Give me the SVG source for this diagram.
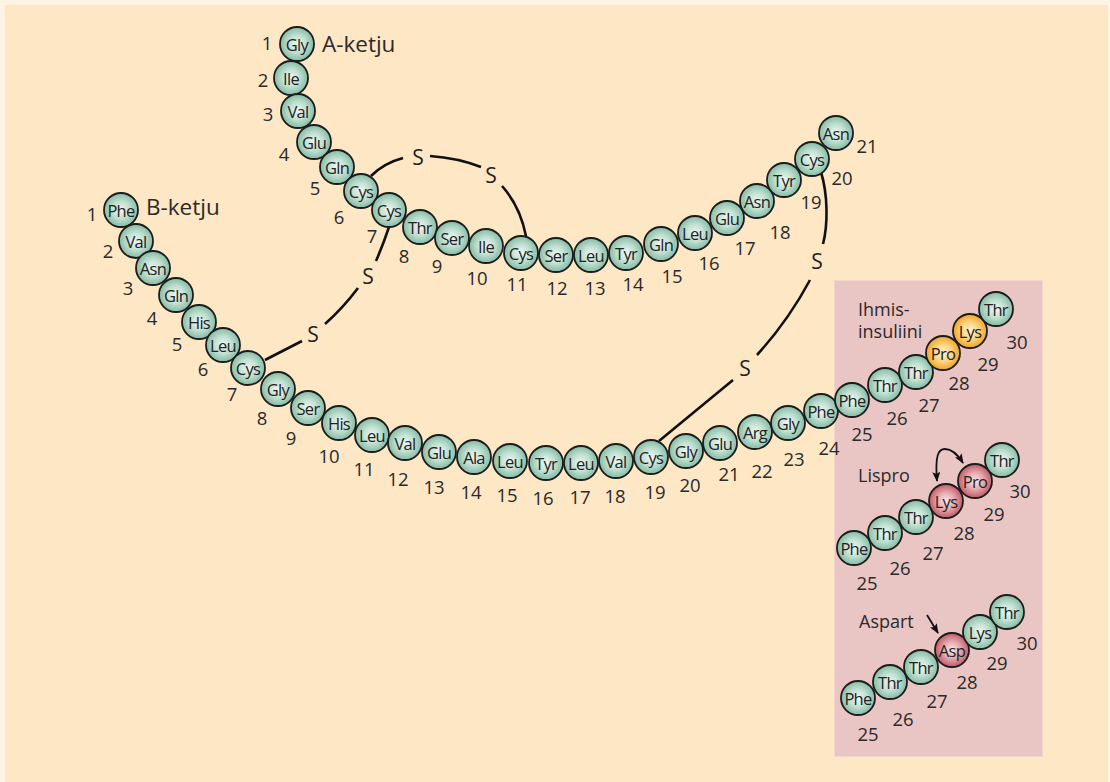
<svg xmlns="http://www.w3.org/2000/svg" width="1110" height="782" viewBox="0 0 1110 782">
<style>
.res circle{stroke:#1c1c1c;stroke-width:1.8}
.g{fill:url(#gGreen)}
.y{fill:url(#gYellow)}
.r{fill:url(#gRed)}
.res text{font-family:"Open Sans","Liberation Sans",sans-serif;font-size:16.5px;fill:#222;text-anchor:middle;dominant-baseline:central;letter-spacing:-0.7px}
.num{font-family:"Open Sans","Liberation Sans",sans-serif;font-size:18.5px;fill:#2a2a2a;text-anchor:middle;dominant-baseline:central}
.title{font-family:"Open Sans","Liberation Sans",sans-serif;font-size:22.5px;fill:#2a2a2a;dominant-baseline:central}
.ptitle{font-family:"Open Sans","Liberation Sans",sans-serif;font-size:18px;fill:#2a2a2a}
.s{font-family:"Open Sans","Liberation Sans",sans-serif;font-size:21px;fill:#222;text-anchor:middle;dominant-baseline:central}
.bond{fill:none;stroke:#111;stroke-width:2.6}
.arrow{fill:none;stroke:#111;stroke-width:1.8}
</style>
<defs>
<radialGradient id="gGreen" cx="50%" cy="50%" r="50%">
<stop offset="0" stop-color="#eef7f2"/>
<stop offset="0.5" stop-color="#c3e1d3"/>
<stop offset="1" stop-color="#84bba4"/>
</radialGradient>
<radialGradient id="gYellow" cx="50%" cy="50%" r="50%">
<stop offset="0" stop-color="#fff4d4"/>
<stop offset="0.5" stop-color="#fcd585"/>
<stop offset="1" stop-color="#eda524"/>
</radialGradient>
<radialGradient id="gRed" cx="50%" cy="50%" r="50%">
<stop offset="0" stop-color="#fbe8ea"/>
<stop offset="0.5" stop-color="#e5a9ae"/>
<stop offset="1" stop-color="#c05a66"/>
</radialGradient>
<marker id="ah" viewBox="0 0 10 8" refX="9" refY="4" markerWidth="10" markerHeight="8" markerUnits="userSpaceOnUse" orient="auto-start-reverse">
<path d="M0,0 L10,4 L0,8 L2,4 z" fill="#111"/>
</marker>
</defs>

<rect x="0" y="0" width="1110" height="782" fill="#fff3e3"/>
<rect x="5" y="5" width="1103" height="777" fill="#fde7c5"/>
<rect id="panel" x="834.5" y="280.5" width="208" height="476" fill="#e9c5c4" stroke="#f3d6cf" stroke-width="1"/>

<g id="connectors">
<path class="bond" d="M371,176 Q384,163 403,158"/>
<path class="bond" d="M430,156 Q458,158 481,167"/>
<path class="bond" d="M502,186 Q520,206 526,236"/>
<text class="s" x="418" y="157">S</text>
<text class="s" x="491" y="175">S</text>

<path class="bond" d="M389,227 Q383,245 376,261"/>
<path class="bond" d="M358,288 Q343,308 325,324"/>
<path class="bond" d="M302,341 L265,360"/>
<text class="s" x="368" y="276">S</text>
<text class="s" x="313" y="334">S</text>

<path class="bond" d="M821,172 C828,195 828,225 823,244"/>
<path class="bond" d="M810,280 Q788,321 757,355"/>
<path class="bond" d="M733,380 L659,441"/>
<text class="s" x="817" y="261">S</text>
<text class="s" x="745" y="368">S</text>

<path class="arrow" d="M937,481 C935,456 938,449 945,449 C952,449 958,455 963,463" marker-start="url(#ah)" marker-end="url(#ah)"/>
<path class="arrow" d="M927,615 L938,633" marker-end="url(#ah)"/>
</g>

<text class="title" x="322" y="43">A-ketju</text>
<text class="title" x="146" y="206">B-ketju</text>
<text class="ptitle" x="858" y="316">Ihmis-</text>
<text class="ptitle" x="858" y="338">insuliini</text>
<text class="ptitle" x="858" y="482">Lispro</text>
<text class="ptitle" x="859" y="628">Aspart</text>

<g id="chainA">
<g id="A1" class="res"><circle class="g" cx="297" cy="44" r="17"/><text x="297" y="44">Gly</text></g>
<g id="A2" class="res"><circle class="g" cx="291" cy="78" r="17"/><text x="291" y="78">Ile</text></g>
<g id="A3" class="res"><circle class="g" cx="298" cy="111" r="17"/><text x="298" y="111">Val</text></g>
<g id="A4" class="res"><circle class="g" cx="314" cy="142" r="17"/><text x="314" y="142">Glu</text></g>
<g id="A5" class="res"><circle class="g" cx="337" cy="167" r="17"/><text x="337" y="167">Gln</text></g>
<g id="A6" class="res"><circle class="g" cx="361" cy="191" r="17"/><text x="361" y="191">Cys</text></g>
<g id="A7" class="res"><circle class="g" cx="389" cy="210" r="17"/><text x="389" y="210">Cys</text></g>
<g id="A8" class="res"><circle class="g" cx="420" cy="227" r="17"/><text x="420" y="227">Thr</text></g>
<g id="A9" class="res"><circle class="g" cx="452" cy="238" r="17"/><text x="452" y="238">Ser</text></g>
<g id="A10" class="res"><circle class="g" cx="486" cy="246" r="17"/><text x="486" y="246">Ile</text></g>
<g id="A11" class="res"><circle class="g" cx="521" cy="253" r="17"/><text x="521" y="253">Cys</text></g>
<g id="A12" class="res"><circle class="g" cx="556" cy="255" r="17"/><text x="556" y="255">Ser</text></g>
<g id="A13" class="res"><circle class="g" cx="591" cy="255" r="17"/><text x="591" y="255">Leu</text></g>
<g id="A14" class="res"><circle class="g" cx="626" cy="253" r="17"/><text x="626" y="253">Tyr</text></g>
<g id="A15" class="res"><circle class="g" cx="661" cy="244" r="17"/><text x="661" y="244">Gln</text></g>
<g id="A16" class="res"><circle class="g" cx="695" cy="233" r="17"/><text x="695" y="233">Leu</text></g>
<g id="A17" class="res"><circle class="g" cx="727" cy="218" r="17"/><text x="727" y="218">Glu</text></g>
<g id="A18" class="res"><circle class="g" cx="757" cy="201" r="17"/><text x="757" y="201">Asn</text></g>
<g id="A19" class="res"><circle class="g" cx="784" cy="180" r="17"/><text x="784" y="180">Tyr</text></g>
<g id="A20" class="res"><circle class="g" cx="812" cy="159" r="17"/><text x="812" y="159">Cys</text></g>
<g id="A21" class="res"><circle class="g" cx="836" cy="133" r="17"/><text x="836" y="133">Asn</text></g>
</g>
<g id="chainA-numbers">
<text class="num" x="267" y="42">1</text><text class="num" x="263" y="79">2</text><text class="num" x="268" y="113">3</text>
<text class="num" x="284" y="153">4</text><text class="num" x="315" y="187">5</text><text class="num" x="339" y="216">6</text>
<text class="num" x="372" y="235">7</text><text class="num" x="404" y="255">8</text><text class="num" x="437" y="265">9</text>
<text class="num" x="477" y="277">10</text><text class="num" x="517" y="283">11</text><text class="num" x="557" y="287">12</text>
<text class="num" x="595" y="287">13</text><text class="num" x="633" y="283">14</text><text class="num" x="672" y="275">15</text>
<text class="num" x="709" y="262">16</text><text class="num" x="745" y="247">17</text><text class="num" x="780" y="231">18</text>
<text class="num" x="811" y="201">19</text><text class="num" x="842" y="177">20</text><text class="num" x="867" y="145">21</text>
</g>

<g id="chainB">
<g id="B1" class="res"><circle class="g" cx="121" cy="210" r="17"/><text x="121" y="210">Phe</text></g>
<g id="B2" class="res"><circle class="g" cx="136" cy="241" r="17"/><text x="136" y="241">Val</text></g>
<g id="B3" class="res"><circle class="g" cx="153" cy="268" r="17"/><text x="153" y="268">Asn</text></g>
<g id="B4" class="res"><circle class="g" cx="176" cy="295" r="17"/><text x="176" y="295">Gln</text></g>
<g id="B5" class="res"><circle class="g" cx="199" cy="322" r="17"/><text x="199" y="322">His</text></g>
<g id="B6" class="res"><circle class="g" cx="223" cy="345" r="17"/><text x="223" y="345">Leu</text></g>
<g id="B7" class="res"><circle class="g" cx="248" cy="368" r="17"/><text x="248" y="368">Cys</text></g>
<g id="B8" class="res"><circle class="g" cx="278" cy="389" r="17"/><text x="278" y="389">Gly</text></g>
<g id="B9" class="res"><circle class="g" cx="308" cy="408" r="17"/><text x="308" y="408">Ser</text></g>
<g id="B10" class="res"><circle class="g" cx="339" cy="423" r="17"/><text x="339" y="423">His</text></g>
<g id="B11" class="res"><circle class="g" cx="372" cy="435" r="17"/><text x="372" y="435">Leu</text></g>
<g id="B12" class="res"><circle class="g" cx="405" cy="443" r="17"/><text x="405" y="443">Val</text></g>
<g id="B13" class="res"><circle class="g" cx="439" cy="452" r="17"/><text x="439" y="452">Glu</text></g>
<g id="B14" class="res"><circle class="g" cx="474" cy="457" r="17"/><text x="474" y="457">Ala</text></g>
<g id="B15" class="res"><circle class="g" cx="510" cy="461" r="17"/><text x="510" y="461">Leu</text></g>
<g id="B16" class="res"><circle class="g" cx="546" cy="463" r="17"/><text x="546" y="463">Tyr</text></g>
<g id="B17" class="res"><circle class="g" cx="581" cy="463" r="17"/><text x="581" y="463">Leu</text></g>
<g id="B18" class="res"><circle class="g" cx="616" cy="461" r="17"/><text x="616" y="461">Val</text></g>
<g id="B19" class="res"><circle class="g" cx="651" cy="457" r="17"/><text x="651" y="457">Cys</text></g>
<g id="B20" class="res"><circle class="g" cx="686" cy="451" r="17"/><text x="686" y="451">Gly</text></g>
<g id="B21" class="res"><circle class="g" cx="720" cy="443" r="17"/><text x="720" y="443">Glu</text></g>
<g id="B22" class="res"><circle class="g" cx="755" cy="432" r="17"/><text x="755" y="432">Arg</text></g>
<g id="B23" class="res"><circle class="g" cx="788" cy="423" r="17"/><text x="788" y="423">Gly</text></g>
<g id="B24" class="res"><circle class="g" cx="821" cy="411" r="17"/><text x="821" y="411">Phe</text></g>
<g id="B25" class="res"><circle class="g" cx="852" cy="400" r="17"/><text x="852" y="400">Phe</text></g>
<g id="B26" class="res"><circle class="g" cx="885" cy="385" r="17"/><text x="885" y="385">Thr</text></g>
<g id="B27" class="res"><circle class="g" cx="916" cy="372" r="17"/><text x="916" y="372">Thr</text></g>
<g id="B28" class="res"><circle class="y" cx="943" cy="353" r="17"/><text x="943" y="353">Pro</text></g>
<g id="B29" class="res"><circle class="y" cx="970" cy="331" r="17"/><text x="970" y="331">Lys</text></g>
<g id="B30" class="res"><circle class="g" cx="996" cy="309" r="17"/><text x="996" y="309">Thr</text></g>
</g>
<g id="chainB-numbers">
<text class="num" x="92" y="213">1</text><text class="num" x="108" y="250">2</text><text class="num" x="128" y="287">3</text>
<text class="num" x="152" y="317">4</text><text class="num" x="177" y="343">5</text><text class="num" x="203" y="368">6</text>
<text class="num" x="232" y="393">7</text><text class="num" x="262" y="417">8</text><text class="num" x="291" y="437">9</text>
<text class="num" x="329" y="455">10</text><text class="num" x="364" y="468">11</text><text class="num" x="398" y="478">12</text>
<text class="num" x="434" y="486">13</text><text class="num" x="471" y="491">14</text><text class="num" x="507" y="494">15</text>
<text class="num" x="543" y="497">16</text><text class="num" x="580" y="496">17</text><text class="num" x="615" y="495">18</text>
<text class="num" x="655" y="491">19</text><text class="num" x="690" y="484">20</text><text class="num" x="729" y="473">21</text>
<text class="num" x="762" y="470">22</text><text class="num" x="794" y="458">23</text><text class="num" x="829" y="447">24</text>
<text class="num" x="862" y="433">25</text><text class="num" x="897" y="417">26</text><text class="num" x="929" y="404">27</text>
<text class="num" x="959" y="382">28</text><text class="num" x="988" y="363">29</text><text class="num" x="1017" y="341">30</text>
</g>

<g id="lispro">
<g id="L25" class="res"><circle class="g" cx="854" cy="548" r="17"/><text x="854" y="548">Phe</text></g>
<g id="L26" class="res"><circle class="g" cx="885" cy="533" r="17"/><text x="885" y="533">Thr</text></g>
<g id="L27" class="res"><circle class="g" cx="916" cy="517" r="17"/><text x="916" y="517">Thr</text></g>
<g id="L28" class="res"><circle class="r" cx="946" cy="501" r="17"/><text x="946" y="501">Lys</text></g>
<g id="L29" class="res"><circle class="r" cx="975" cy="481" r="17"/><text x="975" y="481">Pro</text></g>
<g id="L30" class="res"><circle class="g" cx="1002" cy="460" r="17"/><text x="1002" y="460">Thr</text></g>
<text class="num" x="867" y="582">25</text><text class="num" x="900" y="567">26</text><text class="num" x="933" y="552">27</text>
<text class="num" x="964" y="532">28</text><text class="num" x="994" y="513">29</text><text class="num" x="1020" y="490">30</text>
</g>

<g id="aspart">
<g id="P25" class="res"><circle class="g" cx="858" cy="698" r="17"/><text x="858" y="698">Phe</text></g>
<g id="P26" class="res"><circle class="g" cx="890" cy="682" r="17"/><text x="890" y="682">Thr</text></g>
<g id="P27" class="res"><circle class="g" cx="921" cy="667" r="17"/><text x="921" y="667">Thr</text></g>
<g id="P28" class="res"><circle class="r" cx="952" cy="650" r="17"/><text x="952" y="650">Asp</text></g>
<g id="P29" class="res"><circle class="g" cx="980" cy="632" r="17"/><text x="980" y="632">Lys</text></g>
<g id="P30" class="res"><circle class="g" cx="1007" cy="612" r="17"/><text x="1007" y="612">Thr</text></g>
<text class="num" x="868" y="733">25</text><text class="num" x="903" y="718">26</text><text class="num" x="937" y="700">27</text>
<text class="num" x="967" y="681">28</text><text class="num" x="997" y="662">29</text><text class="num" x="1027" y="642">30</text>
</g>
</svg>
